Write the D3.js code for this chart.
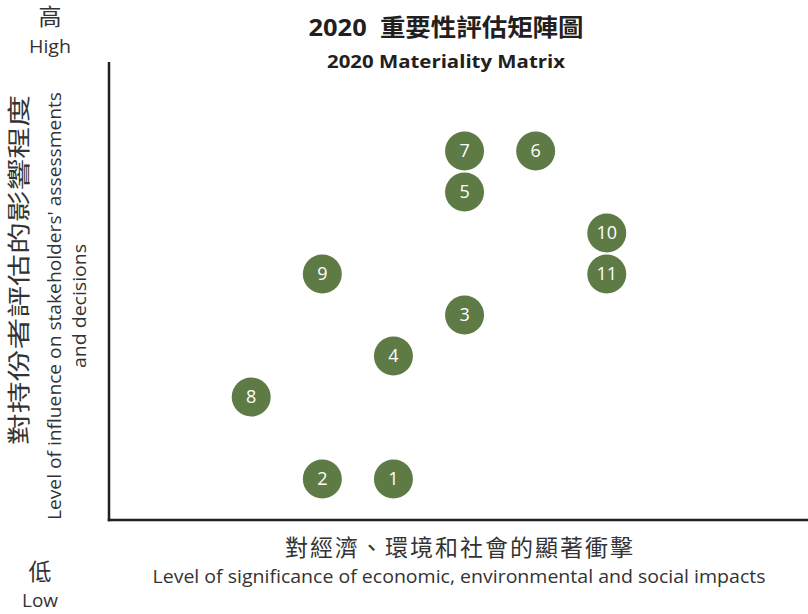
<!DOCTYPE html>
<html>
<head>
<meta charset="utf-8">
<script src="https://cdn.jsdelivr.net/npm/d3@7"></script>
<style>
  body { margin: 0; background: #fff; }
  svg { font-family: "Open Sans", "Noto Sans", "Noto Sans CJK TC", sans-serif; }
</style>
</head>
<body>
<svg id="chart" width="808" height="614"></svg>
<script>
// Issue numbers and their matrix positions (significance, influence)
const issues = [1, 2, 3, 4, 5, 6, 7, 8, 9, 10, 11];
const impact = [4, 3, 5, 4, 5, 6, 5, 2, 3, 7, 7];
const influence = [1, 1, 5, 4, 8, 9, 9, 3, 6, 7, 6];

const titleZh = "2020  重要性評估矩陣圖";
const titleEn = "2020 Materiality Matrix";
const xLabelZh = "對經濟、環境和社會的顯著衝擊";
const xLabelEn = "Level of significance of economic, environmental and social impacts";
const yLabelZh = "對持份者評估的影響程度";
const yLabelEn = ["Level of influence on stakeholders' assessments", "and decisions"];

const green = "#5e7a45";
const ink = "#231f20";
const grey = "#333333";

let svg = d3.select("#chart");

// Plot area
let plotL = 109, plotR = 808, plotT = 62, plotB = 520;

let x = d3.scaleLinear().domain([0, 9.83]).range([plotL, plotR]);
let y = d3.scaleLinear().domain([0, 11.17]).range([plotB, plotT]);

let data = issues.map((d, i) => ({ id: d, x: impact[i], y: influence[i] }));

// Helper for a label stretched to the reference width
function label(px, py, size, txt, len, opt = {}) {
  let t = svg.append("text")
    .attr("transform", `translate(${px}, ${py})` + (opt.rotate ? " rotate(-90)" : ""))
    .attr("text-anchor", "middle")
    .attr("font-size", size + "px")
    .attr("font-weight", opt.bold ? "bold" : "normal")
    .attr("fill", opt.fill || grey)
    .style("white-space", "pre")
    .text(txt);
  if (len) t.attr("textLength", len).attr("lengthAdjust", opt.adjust || "spacingAndGlyphs");
  return t;
}

// Axis lines (no ticks)
svg.append("line")
  .attr("x1", x(0)).attr("x2", x(0))
  .attr("y1", y(11.17)).attr("y2", y(0) + 1.25)
  .attr("stroke", ink).attr("stroke-width", 2.5);
svg.append("line")
  .attr("x1", x(0) - 1.25).attr("x2", x(9.83))
  .attr("y1", y(0)).attr("y2", y(0))
  .attr("stroke", ink).attr("stroke-width", 2.5);

// Points
let pt = svg.append("g")
  .selectAll("g")
  .data(data)
  .join("g")
    .attr("transform", d => `translate(${x(d.x)}, ${y(d.y)})`);

pt.append("circle")
  .attr("r", 19.5)
  .attr("fill", green);

pt.append("text")
  .text(d => d.id)
  .attr("text-anchor", "middle")
  .attr("dy", "0.36em")
  .attr("fill", "#fff")
  .attr("font-size", "18px");

// Titles
label(446, 36, 24, titleZh, 275, { bold: true, fill: ink });
label(446, 68, 18, titleEn, 238, { bold: true, fill: ink });

// High / Low markers
label(50, 25, 23, "高", null);
label(50, 53, 19, "High", 42);
label(40, 580, 23, "低", null);
label(40, 607, 19, "Low", 36);

// X axis labels
label(459, 556, 23, xLabelZh, 348, { adjust: "spacing" });
label(459, 583, 18, xLabelEn, 613);

// Y axis labels (rotated)
label(27, 270, 23, yLabelZh, 350, { rotate: true });
yLabelEn.forEach((s, i) => {
  label(61 + i * 25, 306, 18.5, s, i === 0 ? 428 : 124, { rotate: true });
});
</script>
</body>
</html>
